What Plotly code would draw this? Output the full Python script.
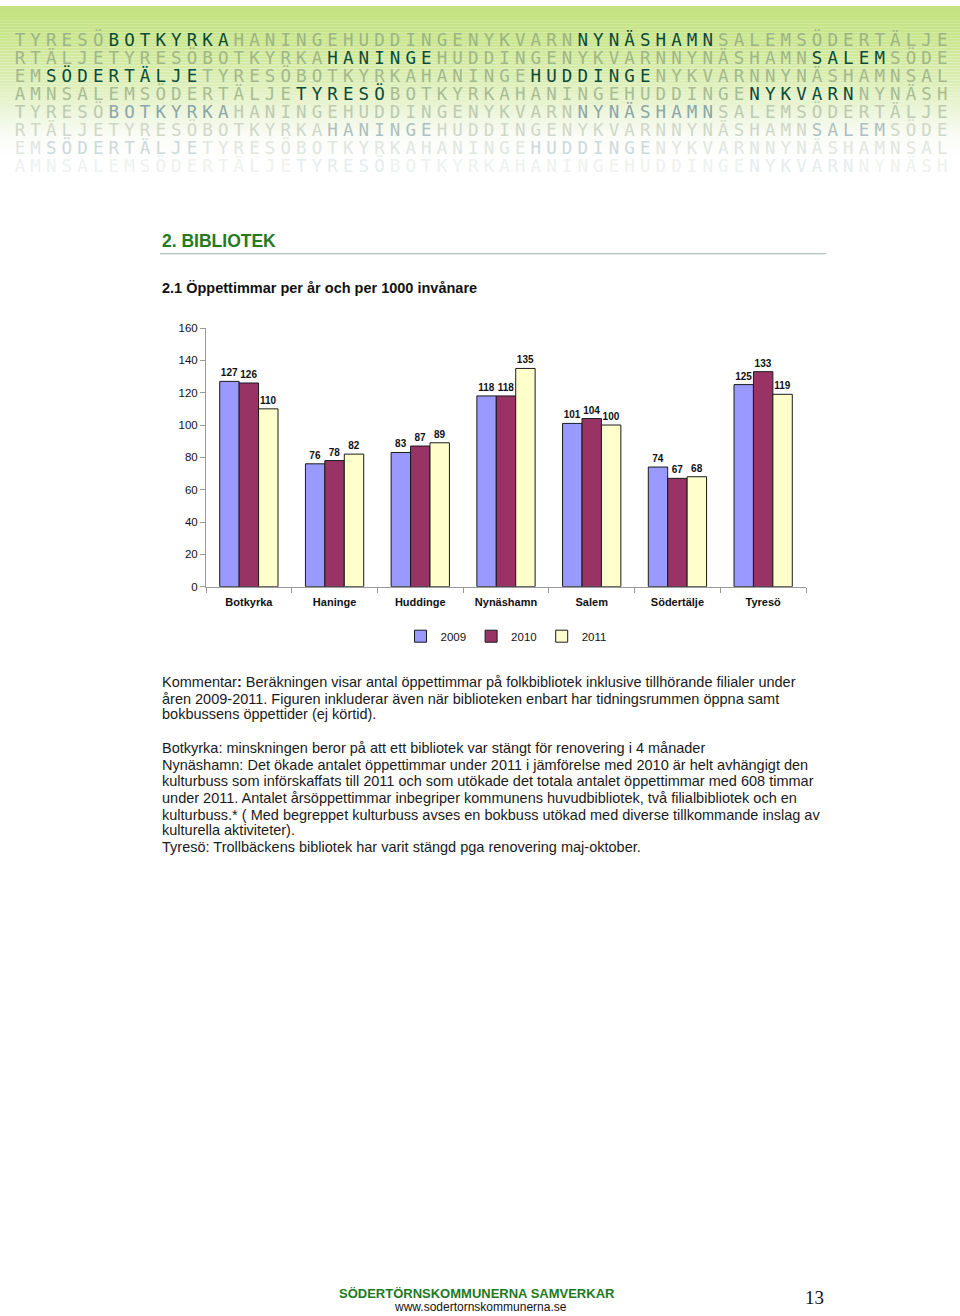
import plotly.graph_objects as go

# ---------------- data ----------------
categories = ["Botkyrka", "Haninge", "Huddinge", "Nynäshamn", "Salem", "Södertälje", "Tyresö"]
years = ["2009", "2010", "2011"]
values_2009 = [127, 76, 83, 118, 101, 74, 125]
values_2010 = [126, 78, 87, 118, 104, 67, 133]
values_2011 = [110, 82, 89, 135, 100, 68, 119]
y_ticks = [0, 20, 40, 60, 80, 100, 120, 140, 160]

bar_colors = ["#9999ff", "#993366", "#ffffcc"]

# banner words
banner_words = ["TYRESÖ", "BOTKYRKA", "HANINGE", "HUDDINGE", "NYKVARN", "NYNÄSHAMN", "SALEM", "SÖDERTÄLJE"]
banner_row_start = [0, 54, 48, 42, 0, 54, 48, 42]
banner_row_highlight = [
    ["BOTKYRKA", "NYNÄSHAMN"],
    ["HANINGE", "SALEM"],
    ["SÖDERTÄLJE", "HUDDINGE"],
    ["TYRESÖ", "NYKVARN"],
    ["BOTKYRKA", "NYNÄSHAMN"],
    ["HANINGE", "SALEM"],
    ["SÖDERTÄLJE", "HUDDINGE"],
    ["TYRESÖ", "NYKVARN"],
]
banner_bg_colors = ["#9cb483", "#9fb686", "#a3b88b", "#a8bc92", "#bdcaaf", "#cfd8c8", "#e0e6e0", "#eef1ee"]
banner_hl_colors = ["#0a4a38", "#0a4a38", "#0a4a38", "#0a4a38", "#8ba6a6", "#adbfc0", "#cdd8db", "#e6ecee"]

body_lines = [
    "Kommentar<b>:</b> Beräkningen visar antal öppettimmar på folkbibliotek inklusive tillhörande filialer under",
    "åren 2009-2011. Figuren inkluderar även när biblioteken enbart har tidningsrummen öppna samt",
    "bokbussens öppettider (ej körtid).",
    "Botkyrka: minskningen beror på att ett bibliotek var stängt för renovering i 4 månader",
    "Nynäshamn: Det ökade antalet öppettimmar under 2011 i jämförelse med 2010 är helt avhängigt den",
    "kulturbuss som införskaffats till 2011 och som utökade det totala antalet öppettimmar med 608 timmar",
    "under 2011. Antalet årsöppettimmar inbegriper kommunens huvudbibliotek, två filialbibliotek och en",
    "kulturbuss.* ( Med begreppet kulturbuss avses en bokbuss utökad med diverse tillkommande inslag av",
    "kulturella aktiviteter).",
    "Tyresö: Trollbäckens bibliotek har varit stängd pga renovering maj-oktober.",
]
body_line_y = [681, 698, 714, 748, 765, 781, 798, 815, 831, 848]

# ---------------- helpers ----------------
W, H = 960, 1316
def px(x):
    return x / W
def py(y):
    return 1 - y / H

FONT = "Liberation Sans, Arial, sans-serif"

fig = go.Figure()

for name, vals, col in zip(years, [values_2009, values_2010, values_2011], bar_colors):
    fig.add_trace(go.Bar(
        x=categories, y=vals, name=name,
        marker=dict(color=col, line=dict(color="#1a1a1a", width=1)),
        text=vals, texttemplate="%{y}", textposition="outside",
        textfont=dict(family=FONT, size=10, color="#111111", weight="bold"),
        constraintext="none", cliponaxis=False,
        xaxis="x", yaxis="y",
    ))

# ---------------- banner ----------------
cycle = "".join(banner_words)
word_of = []
for w in banner_words:
    word_of += [w] * len(w)

for r in range(8):
    xs, ys, chars, cols = [], [], [], []
    for i in range(60):
        idx = (banner_row_start[r] + i) % 60
        xs.append(20 + 15.63 * i)
        ys.append(36 + 18.15 * r)
        chars.append(cycle[idx])
        cols.append(banner_hl_colors[r] if word_of[idx] in banner_row_highlight[r] else banner_bg_colors[r])
    fig.add_trace(go.Scatter(
        x=xs, y=ys, text=chars, mode="text", textposition="middle center",
        textfont=dict(family="DejaVu Sans Mono, monospace", size=17.5, color=cols),
        xaxis="x2", yaxis="y2", showlegend=False, hoverinfo="skip",
    ))

# gradient background
stops = [(0, (196, 226, 128)), (20, (199, 228, 136)), (45, (206, 232, 152)),
         (80, (222, 239, 186)), (108, (238, 246, 222)), (132, (250, 252, 246)), (152, (255, 255, 255))]
shapes = []
step = 3
yy = 0
while yy < 152:
    mid = yy + step / 2
    c = (255, 255, 255)
    for (a, ca), (b, cb) in zip(stops[:-1], stops[1:]):
        if a <= mid <= b:
            t = (mid - a) / (b - a)
            c = tuple(int(round(ca[k] + (cb[k] - ca[k]) * t)) for k in range(3))
            break
    shapes.append(dict(type="rect", xref="paper", yref="paper", x0=0, x1=1,
                       y0=py(yy + step), y1=py(yy), fillcolor="rgb(%d,%d,%d)" % c,
                       line=dict(width=0), layer="below"))
    yy += step

# rule under section title
shapes.append(dict(type="line", xref="paper", yref="paper", x0=px(160), x1=px(826),
                   y0=py(250), y1=py(250), line=dict(color="#9bb0a3", width=1)))

annotations = [
    dict(text="<b>2. BIBLIOTEK</b>", x=px(160), y=py(237), xanchor="left", yanchor="middle",
         font=dict(family=FONT, size=17.5, color="#237a1f")),
    dict(text="<b>2.1 Öppettimmar per år och per 1000 invånare</b>", x=px(160), y=py(285),
         xanchor="left", yanchor="middle", font=dict(family=FONT, size=14.5, color="#111111")),
    dict(text="<b>SÖDERTÖRNSKOMMUNERNA SAMVERKAR</b>", x=px(477), y=py(1299), xanchor="center",
         yanchor="middle", font=dict(family=FONT, size=13, color="#1c7a22")),
    dict(text="www.sodertornskommunerna.se", x=px(480), y=py(1313), xanchor="center",
         yanchor="middle", font=dict(family=FONT, size=12, color="#111111")),
    dict(text="13", x=px(814), y=py(1303), xanchor="center", yanchor="middle",
         font=dict(family="Liberation Serif, Times New Roman, serif", size=19, color="#111111")),
]
for line, yv in zip(body_lines, body_line_y):
    annotations.append(dict(text=line, x=px(160), y=py(yv + 1), xanchor="left", yanchor="middle",
                            font=dict(family=FONT, size=14.5, color="#1a1a1a")))
for a in annotations:
    a.update(xref="paper", yref="paper", showarrow=False)

fig.update_layout(
    width=W, height=H, margin=dict(l=0, r=0, t=0, b=0),
    paper_bgcolor="white", plot_bgcolor="rgba(0,0,0,0)",
    barmode="group", bargap=0.32, bargroupgap=0,
    font=dict(family=FONT, color="#111111"),
    xaxis=dict(domain=[px(206), px(806)], showline=True, linecolor="#9a9a9a", linewidth=1,
               ticks="outside", tickson="boundaries", ticklen=5, tickcolor="#9a9a9a",
               tickfont=dict(family=FONT, size=11, color="#111111", weight="bold"),
               showgrid=False, zeroline=False, anchor="y", ticklabelstandoff=5),
    yaxis=dict(domain=[py(586), py(325)], range=[0, 160], tickvals=y_ticks,
               showline=True, linecolor="#9a9a9a", linewidth=1, ticks="outside", ticklen=5,
               tickcolor="#9a9a9a", tickfont=dict(family=FONT, size=11.5, color="#111111"),
               showgrid=False, zeroline=False, anchor="x"),
    xaxis2=dict(domain=[0, 1], range=[0, W], visible=False, anchor="y2", fixedrange=True),
    yaxis2=dict(domain=[0, 1], range=[H, 0], visible=False, anchor="x2", fixedrange=True),
    legend=dict(orientation="h", x=px(506), y=py(636), xanchor="center", yanchor="middle",
                font=dict(family=FONT, size=11.5, color="#111111"), itemwidth=30,
                bgcolor="rgba(0,0,0,0)", tracegroupgap=0),
    shapes=shapes, annotations=annotations,
    showlegend=True,
)

fig.write_html("out.html")
